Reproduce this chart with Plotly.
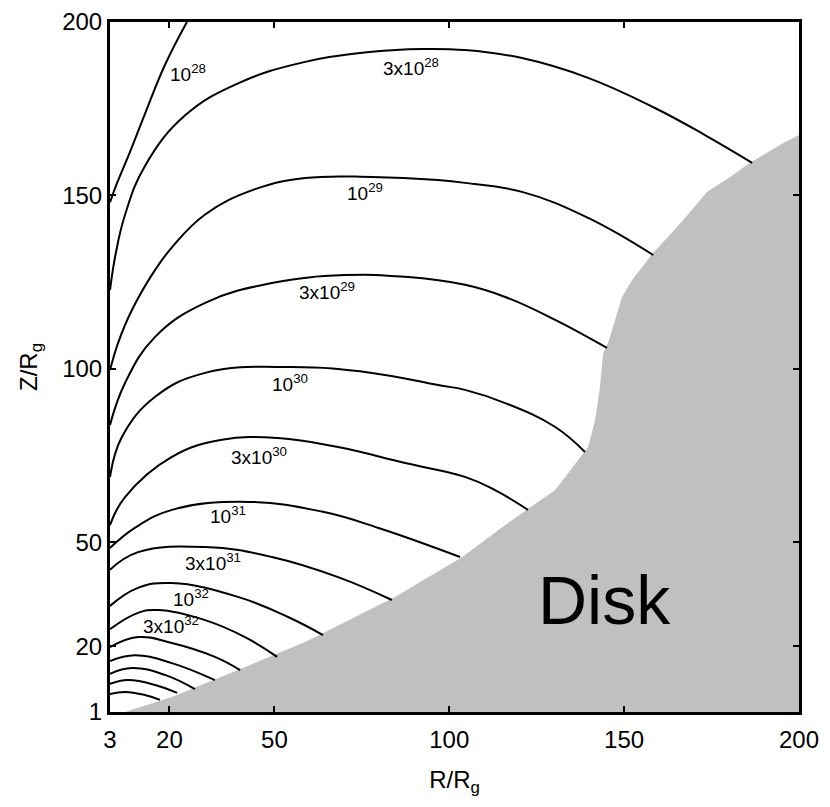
import plotly.graph_objects as go

# ---- axis ticks ----
x_tickvals = [3, 20, 50, 100, 150, 200]
y_tickvals = [1, 20, 50, 100, 150, 200]

# ---- disk boundary (R, Z) ----
disk_r = [7.3, 20.7, 39.6, 58.8, 84.5, 103.7, 118.0, 130.3, 139.7, 141.7, 143.1, 144.0,
          145.4, 147.4, 149.4, 152.3, 158.3, 166.9, 173.7, 180.3, 186.0, 195.5, 200.0, 200.0]
disk_z = [1.0, 5.3, 13.1, 21.2, 34.2, 45.7, 56.4, 65.0, 77.4, 85.2, 94.7, 104.5,
          107.4, 114.1, 120.7, 125.6, 133.4, 142.9, 151.0, 155.3, 159.4, 165.1, 167.4, 1.0]

# ---- contour lines (R, Z) ----
r_1e28 = [3.0, 5.0, 8.7, 13.0, 18.7, 25.0]
z_1e28 = [148.0, 153.5, 162.5, 173.5, 187.6, 200.0]
r_3e28 = [3.0, 4.6, 7.3, 13.0, 24.4, 39.6, 58.8, 77.9, 92.2, 104.5, 120.8, 139.7, 158.8, 173.1, 186.6]
z_3e28 = [122.7, 133.0, 144.4, 158.5, 173.0, 182.3, 188.5, 191.4, 192.2, 191.9, 189.6, 183.9, 175.2, 167.4, 159.4]
r_1e29 = [3.0, 5.3, 9.3, 15.9, 20.7, 30.2, 44.5, 58.8, 77.9, 96.8, 104.5, 120.8, 139.7, 158.3]
z_1e29 = [99.6, 107.4, 117.0, 128.5, 135.0, 144.5, 151.8, 155.0, 155.3, 154.4, 153.6, 151.0, 143.5, 132.8]
r_3e29 = [3.0, 7.3, 15.9, 30.2, 49.3, 70.2, 87.4, 104.5, 116.0, 130.3, 145.1]
z_3e29 = [83.8, 95.9, 109.2, 119.0, 124.7, 127.0, 126.5, 124.2, 120.7, 114.1, 106.0]
r_1e30 = [3.0, 6.4, 15.9, 30.2, 55.0, 77.9, 96.8, 104.5, 116.0, 130.3, 138.8]
z_1e30 = [68.8, 80.3, 91.9, 98.8, 100.5, 98.8, 95.3, 93.9, 90.1, 83.2, 76.0]
r_3e30 = [3.0, 7.3, 20.7, 35.0, 51.0, 68.2, 87.4, 104.5, 113.1, 122.5]
z_3e30 = [54.9, 63.0, 74.6, 79.5, 80.0, 77.4, 72.8, 68.8, 65.0, 59.3]
r_1e31 = [3.0, 10.1, 20.7, 42.5, 63.6, 80.0, 103.1]
z_1e31 = [48.3, 54.1, 59.3, 61.6, 58.8, 54.0, 45.7]
r_3e31 = [3.0, 11.0, 30.2, 49.3, 68.2, 83.6]
z_3e31 = [42.0, 47.1, 48.6, 45.7, 39.9, 33.3]
r_1e32 = [3.0, 11.0, 20.7, 39.6, 53.9, 63.9]
z_1e32 = [31.6, 36.8, 38.2, 34.2, 28.4, 23.2]
r_3e32 = [3.0, 11.0, 16.7, 30.2, 41.6, 50.8]
z_3e32 = [24.9, 29.6, 30.4, 27.5, 22.6, 16.9]
r_c11 = [3.0, 11.0, 20.7, 33.0, 40.2]
z_c11 = [19.7, 22.6, 20.9, 16.9, 13.1]
r_c12 = [3.0, 10.1, 20.7, 33.0]
z_c12 = [15.7, 17.4, 15.1, 10.2]
r_c13 = [3.0, 9.3, 18.7, 27.3]
z_c13 = [12.0, 13.7, 11.7, 7.6]
r_c14 = [3.0, 8.1, 15.9, 22.2]
z_c14 = [9.1, 10.2, 8.8, 6.5]
r_c15 = [3.0, 7.3, 13.0, 17.3]
z_c15 = [6.2, 6.8, 5.9, 4.5]

# ---- contour labels ----
label_text = ["10<sup>28</sup>", "3x10<sup>28</sup>", "10<sup>29</sup>", "3x10<sup>29</sup>",
              "10<sup>30</sup>", "3x10<sup>30</sup>", "10<sup>31</sup>", "3x10<sup>31</sup>",
              "10<sup>32</sup>", "3x10<sup>32</sup>"]
label_r = [25.3, 89.1, 75.9, 65.1, 54.5, 45.6, 36.7, 32.5, 26.2, 20.4]
label_z = [185.3, 187.0, 151.0, 122.4, 95.9, 74.8, 57.8, 44.3, 33.9, 26.1]

curves = [(r_1e28, z_1e28), (r_3e28, z_3e28), (r_1e29, z_1e29), (r_3e29, z_3e29),
          (r_1e30, z_1e30), (r_3e30, z_3e30), (r_1e31, z_1e31), (r_3e31, z_3e31),
          (r_1e32, z_1e32), (r_3e32, z_3e32), (r_c11, z_c11), (r_c12, z_c12),
          (r_c13, z_c13), (r_c14, z_c14), (r_c15, z_c15)]

FONT = "Liberation Sans, Arial, Helvetica, sans-serif"

fig = go.Figure()

fig.add_trace(go.Scatter(x=disk_r, y=disk_z, mode="lines", fill="toself",
                         fillcolor="#c0c0c0", line=dict(width=0, color="#c0c0c0"),
                         hoverinfo="skip", showlegend=False))

for r, z in curves:
    fig.add_trace(go.Scatter(x=r, y=z, mode="lines",
                             line=dict(color="black", width=2, shape="spline", smoothing=1.2),
                             hoverinfo="skip", showlegend=False))

for t, r, z in zip(label_text, label_r, label_z):
    fig.add_annotation(x=r, y=z, text=t, showarrow=False,
                       font=dict(family=FONT, size=19, color="black"))

fig.add_annotation(x=144.5, y=33.3, text="Disk", showarrow=False,
                   font=dict(family=FONT, size=68, color="black"))

axis_common = dict(showline=True, linecolor="black", linewidth=3, mirror="ticks",
                   ticks="inside", ticklen=6, tickwidth=2, tickcolor="black",
                   showgrid=False, zeroline=False, automargin=False,
                   tickfont=dict(family=FONT, size=24, color="black"))

fig.update_xaxes(range=[3, 200], tickvals=x_tickvals, ticktext=[str(v) for v in x_tickvals],
                 ticklabelstandoff=4,
                 title=dict(text="R/R<sub>g</sub>", font=dict(family=FONT, size=24, color="black"),
                            standoff=20),
                 **axis_common)
fig.update_yaxes(range=[1, 200], tickvals=y_tickvals, ticktext=[str(v) for v in y_tickvals],
                 title=dict(text="Z/R<sub>g</sub>", font=dict(family=FONT, size=24, color="black"),
                            standoff=18),
                 **axis_common)

fig.update_layout(width=822, height=799, paper_bgcolor="white", plot_bgcolor="white",
                  margin=dict(l=102, r=31, t=14, b=95), showlegend=False)

fig.write_html("out.html")
